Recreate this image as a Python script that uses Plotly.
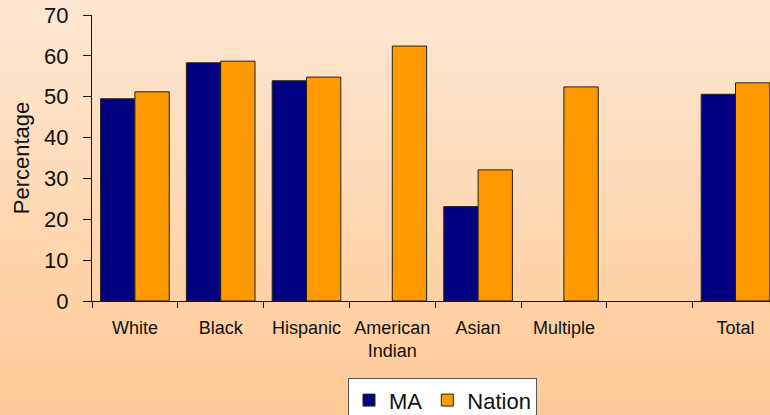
import plotly.graph_objects as go

categories = ["White", "Black", "Hispanic", "American<br>Indian", "Asian", "Multiple", " ", "Total"]
ma_values = [49.5, 58.3, 53.9, None, 23.1, None, None, 50.6]
nation_values = [51.2, 58.7, 54.8, 62.4, 32.1, 52.4, None, 53.4]
y_ticks = [0, 10, 20, 30, 40, 50, 60, 70]

FONT = "Liberation Sans, Arial, sans-serif"

fig = go.Figure()
fig.add_trace(go.Bar(name="MA", x=categories, y=ma_values,
                     marker=dict(color="#000080", line=dict(color="#222222", width=1))))
fig.add_trace(go.Bar(name="Nation", x=categories, y=nation_values,
                     marker=dict(color="#FF9900", line=dict(color="#222222", width=1))))

# background gradient (paper coordinates extend into margins)
W, H = 770, 415
ml, mr, mt, mb = 92, 0, 15, 114
pw, ph = W - ml - mr, H - mt - mb
y_top = 1 + mt / ph
y_bot = -mb / ph
x_left = -ml / pw
n = 60
c0 = (254, 231, 210)
c1 = (255, 202, 150)
shapes = []
for i in range(n):
    t = i / (n - 1)
    c = tuple(round(c0[k] + (c1[k] - c0[k]) * t) for k in range(3))
    ya = y_top - (y_top - y_bot) * i / n
    yb = y_top - (y_top - y_bot) * (i + 1) / n
    if i == 0:
        ya += 0.2
    if i == n - 1:
        yb -= 0.2
    shapes.append(dict(type="rect", xref="paper", yref="paper", x0=x_left - 0.2, x1=1.2,
                       y0=yb - 0.002, y1=ya + 0.002, fillcolor="rgb(%d,%d,%d)" % c,
                       line=dict(width=0), layer="below"))

fig.update_layout(
    width=W, height=H,
    margin=dict(l=ml, r=mr, t=mt, b=mb, pad=0, autoexpand=False),
    paper_bgcolor="#FFCA96",
    plot_bgcolor="rgba(0,0,0,0)",
    shapes=shapes,
    barmode="group", bargap=0.2, bargroupgap=0,
    font=dict(family=FONT, color="#111111"),
    showlegend=True,
    legend=dict(orientation="h", x=(348 - ml) / pw, y=(300.7 - 378) / ph,
                xanchor="left", yanchor="top", bgcolor="white",
                bordercolor="#555555", borderwidth=1,
                font=dict(size=22, family=FONT, color="#111111"),
                itemwidth=30, traceorder="normal"),
    xaxis=dict(type="category", range=[-0.5, -0.5 + pw / 85.8], automargin=False,
               showline=True, linecolor="#111111", linewidth=1,
               ticks="outside", ticklen=6, tickcolor="#111111", tickson="boundaries",
               tickfont=dict(size=18, family=FONT, color="#111111"),
               ticklabelstandoff=10, showgrid=False, zeroline=False),
    yaxis=dict(range=[0, 70], tickvals=y_ticks, showline=True, linecolor="#111111",
               linewidth=1, ticks="outside", ticklen=8, tickcolor="#111111", automargin=False,
               tickfont=dict(size=22, family=FONT, color="#111111"),
               ticklabelstandoff=10, showgrid=False, zeroline=False,
               title=dict(text="Percentage", font=dict(size=22, family=FONT, color="#111111"),
                          standoff=8)),
)

fig.write_html("out.html", config={"displayModeBar": False},
               post_script="document.body.style.margin='0';")
